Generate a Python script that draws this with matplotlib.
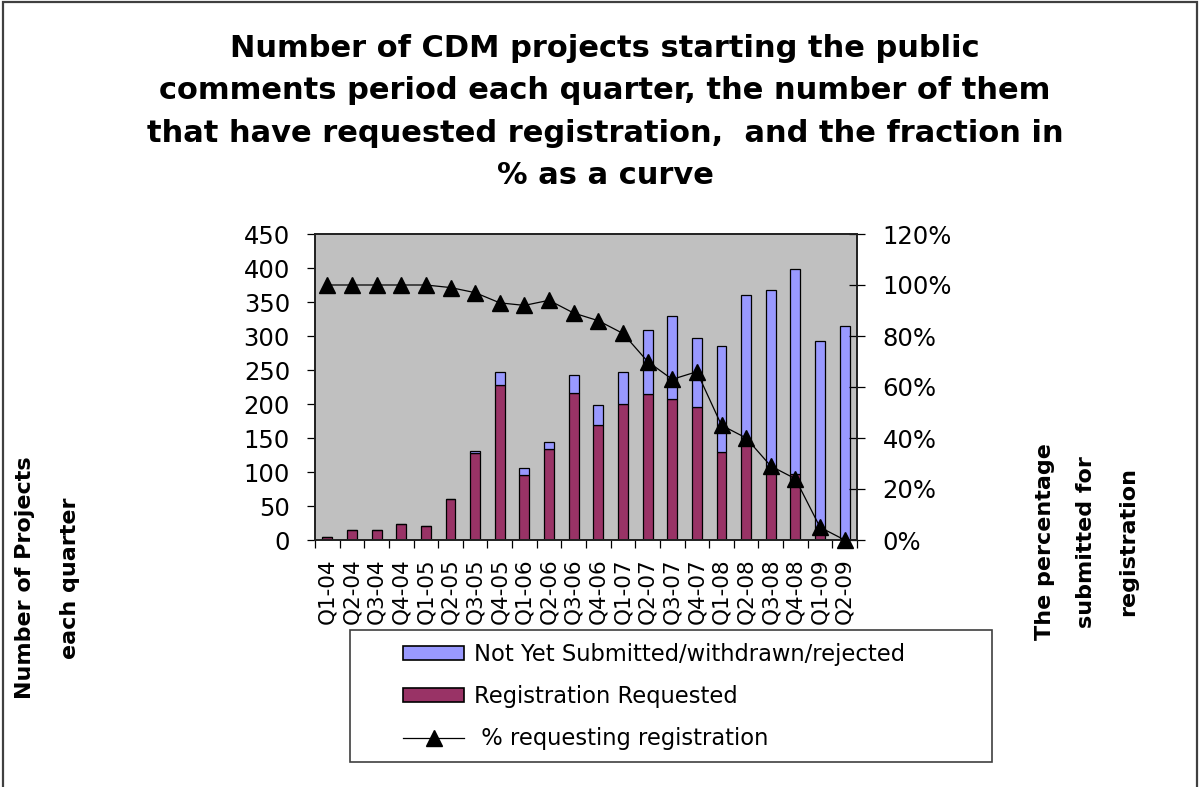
import matplotlib
matplotlib.use("Agg")
import matplotlib.pyplot as plt
from matplotlib.patches import Rectangle
from matplotlib.lines import Line2D
import numpy as np

plt.rcParams['font.family'] = ['DejaVu Sans']

quarters = ["Q1-04", "Q2-04", "Q3-04", "Q4-04", "Q1-05", "Q2-05", "Q3-05", "Q4-05",
            "Q1-06", "Q2-06", "Q3-06", "Q4-06", "Q1-07", "Q2-07", "Q3-07", "Q4-07",
            "Q1-08", "Q2-08", "Q3-08", "Q4-08", "Q1-09", "Q2-09"]
requested = [5, 14, 14, 23, 21, 61, 128, 228, 96, 134, 216, 169, 200, 214, 207, 195,
             129, 141, 102, 97, 12, 0]
not_yet = [0, 0, 0, 0, 0, 0, 3, 19, 10, 10, 26, 29, 47, 95, 122, 102,
           156, 219, 265, 301, 280, 315]
pct = [100, 100, 100, 100, 100, 99, 97, 93, 92, 94, 89, 86, 81, 70, 63, 66,
       45, 40, 29, 24, 5, 0]

title_lines = ["Number of CDM projects starting the public",
               "comments period each quarter, the number of them",
               "that have requested registration,  and the fraction in",
               "% as a curve"]
left_label = ["Number of Projects", "each quarter"]
right_label = ["The percentage", "submitted for", "registration"]
legend_labels = ["Not Yet Submitted/withdrawn/rejected", "Registration Requested",
                 " % requesting registration"]

W, H = 1200, 787
fig = plt.figure(figsize=(12, 7.87), dpi=100)
fig.patch.set_facecolor('white')

def fx(px):
    return px / W

def fy(py):
    return 1 - py / H

ax = fig.add_axes([fx(315), fy(540), fx(857) - fx(315), fy(234) - fy(540)])
ax.set_facecolor('#C0C0C0')
x = np.arange(len(quarters))
ax.bar(x, requested, width=0.4, color='#993366', edgecolor='black', linewidth=0.9, zorder=2)
ax.bar(x, not_yet, width=0.4, bottom=requested, color='#9999FF', edgecolor='black',
       linewidth=0.9, zorder=2)
ax.set_xlim(-0.5, len(quarters) - 0.5)
ax.set_ylim(0, 450)
ax.set_yticks(np.arange(0, 451, 50))
ax.set_xticks(x)
ax.set_xticklabels(quarters, rotation=90, fontsize=15.5)
ax.set_xticks(np.arange(-0.5, len(quarters), 1), minor=True)
ax.tick_params(axis='x', which='major', length=0, pad=13)
ax.tick_params(axis='x', which='minor', length=5.5, width=0.9, direction='out')
ax.tick_params(axis='y', labelsize=17.5, length=6, width=0.9, direction='out', pad=12)
for s in ax.spines.values():
    s.set_color('#202020')
    s.set_linewidth(1.2)

ax2 = ax.twinx()
ax2.plot(x, pct, color='black', linewidth=0.9, marker='^', markersize=12,
         markerfacecolor='black', markeredgecolor='black', zorder=3, clip_on=False)
ax2.set_ylim(0, 120)
ax2.set_yticks(np.arange(0, 121, 20))
ax2.set_yticklabels([f"{v}%" for v in range(0, 121, 20)])
ax2.tick_params(axis='y', labelsize=17.5, length=11, width=0.9, direction='inout', pad=13)
ax2.set_xlim(-0.5, len(quarters) - 0.5)
for s in ax2.spines.values():
    s.set_color('#202020')
    s.set_linewidth(1.2)

# title
for i, line in enumerate(title_lines):
    fig.text(fx(605), fy(57 + 42.3 * i), line, ha='center', va='baseline',
             fontsize=22, fontweight='bold')

# axis labels
for i, line in enumerate(left_label):
    fig.text(fx(25 + 45 * i), fy(578), line, rotation=90, ha='center', va='center',
             fontsize=16, fontweight='bold')
for i, line in enumerate(right_label):
    fig.text(fx(1045 + 41.5 * i), fy(542), line, rotation=90, ha='center', va='center',
             fontsize=16, fontweight='bold')

# legend
handles = [Rectangle((0, 0), 1, 1, facecolor='#9999FF', edgecolor='black', linewidth=1.2),
           Rectangle((0, 0), 1, 1, facecolor='#993366', edgecolor='black', linewidth=1.2),
           Line2D([], [], color='black', linewidth=0.9, marker='^', markersize=12)]
leg = fig.legend(handles, legend_labels, loc='upper left',
                 bbox_to_anchor=(fx(403), fy(643)), frameon=False, fontsize=16.3,
                 borderpad=0, borderaxespad=0, handlelength=2.7, handleheight=0.56,
                 handletextpad=0.44, labelspacing=0.85)
fig.patches.append(Rectangle((fx(350), fy(762)), fx(992) - fx(350), fy(630) - fy(762),
                             transform=fig.transFigure, fill=False, edgecolor='#404040',
                             linewidth=1.2))
# outer border
fig.patches.append(Rectangle((fx(3), -0.05), fx(1197) - fx(3), fy(2) + 0.05,
                             transform=fig.transFigure, fill=False, edgecolor='#404040',
                             linewidth=1.6, clip_on=False))

fig.savefig("out.png", dpi=100)
